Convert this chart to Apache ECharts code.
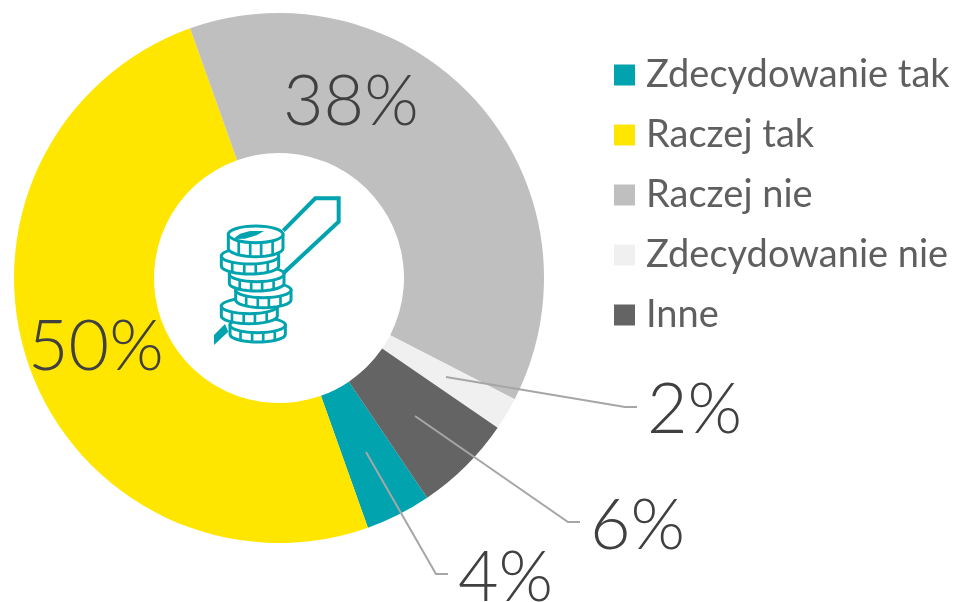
<!DOCTYPE html>
<html>
<head>
<meta charset="utf-8">
<style>
  html, body { margin: 0; padding: 0; background: #fff; }
  #chart { width: 954px; height: 602px; }
</style>
<script src="https://cdn.jsdelivr.net/npm/echarts@6/dist/echarts.min.js"></script>
</head>
<body>
<div id="chart"></div>
<script>
// odpowiedzi i udzial procentowy
const categories = ['Zdecydowanie tak', 'Raczej tak', 'Raczej nie', 'Zdecydowanie nie', 'Inne']
const values = [4, 50, 38, 2, 6]
const colors = ['#00a3ae', '#ffe600', '#bfbfbf', '#f0f0f0', '#646464']
const TEAL = '#00a3ae'

// polozenie etykiet: [x, y] tekstu, dalej punkty linii odniesienia
const labelSpots = [
  { x: 458, y: 578, line: [[366, 452], [436, 574], [448, 574]] },
  { x: 28, y: 347, inner: true },
  { x: 283, y: 102, inner: true },
  { x: 647, y: 410, line: [[446, 377], [625, 407], [637, 407]] },
  { x: 590, y: 526, line: [[415, 416], [568, 522], [580, 522]] }
]

// ikona: monety [cx, cy, rx, ry, h], od dolnej do gornej, w skali powiekszenia 3x
const coins = [
  [203, 465, 83, 23, 28],
  [178, 408, 84, 23, 30],
  [220, 360, 83, 23, 30],
  [200, 312, 82, 23, 28],
  [180, 258, 86, 24, 30],
  [197, 193, 82, 25, 42]
]

function coinShapes (c) {
  const [cx, cy, rx, ry, h] = c
  const style = { stroke: TEAL, lineWidth: 9, fill: '#fff' }
  // bok monety: gorna krawedz i dolny luk
  const body = [[cx - rx, cy]]
  for (let a = 180; a >= 0; a -= 10) {
    const t = a * Math.PI / 180
    body.push([cx + rx * Math.cos(t), cy + h + ry * Math.sin(t)])
  }
  body.push([cx + rx, cy])
  const shapes = [
    { type: 'polygon', shape: { points: body }, style },
    { type: 'ellipse', shape: { cx, cy, rx, ry }, style }
  ]
  ;[-0.62, -0.2, 0.2, 0.62].forEach(k => {
    const x = cx + k * rx
    const d = ry * Math.sqrt(1 - k * k)
    shapes.push({ type: 'line', shape: { x1: x, y1: cy + d, x2: x, y2: cy + d + h }, style: { stroke: TEAL, lineWidth: 8 } })
  })
  return shapes
}

const icon = [
  {
    type: 'polyline',
    shape: { points: [[280, 182], [376, 85], [446, 85], [446, 155], [280, 310]] },
    style: { stroke: TEAL, lineWidth: 12, fill: null }
  },
  {
    type: 'polygon',
    shape: { points: [[72, 495], [105, 462], [115, 485], [72, 525]] },
    style: { fill: TEAL }
  }
]
coins.forEach(c => icon.push(...coinShapes(c)))
icon.push({
  type: 'polygon',
  shape: { points: [[130, 207], [165, 206], [200, 196], [222, 183], [180, 183], [150, 191]] },
  style: { fill: TEAL }
})

const pieData = categories.map((name, i) => ({ name, value: values[i] }))

const chart = echarts.init(document.getElementById('chart'))
chart.setOption({
  animation: false,
  backgroundColor: '#fff',
  color: colors,
  textStyle: { fontFamily: 'Lato' },
  legend: {
    orient: 'vertical',
    left: 614,
    top: 56,
    padding: 0,
    icon: 'rect',
    itemWidth: 21,
    itemHeight: 21,
    itemGap: 22,
    selectedMode: false,
    data: categories,
    textStyle: { fontFamily: 'Lato', fontSize: 38, color: '#5f5f5f', padding: [0, 0, 0, 6] }
  },
  series: [
    {
      type: 'pie',
      z: 2,
      center: [279, 278],
      radius: [125, 265],
      startAngle: -56,
      data: pieData,
      label: { show: false },
      labelLine: { show: false }
    },
    // ta sama seria bez wypelnienia, zeby linie odniesienia lezaly na wycinkach
    {
      type: 'pie',
      z: 3,
      silent: true,
      center: [279, 278],
      radius: [125, 265],
      startAngle: -56,
      itemStyle: { color: 'rgba(0,0,0,0)' },
      data: pieData.map((d, i) => ({
        ...d,
        label: { position: labelSpots[i].inner ? 'inside' : 'outside' },
        labelLine: { show: !!labelSpots[i].line }
      })),
      label: {
        show: true,
        formatter: '{c}%',
        fontFamily: 'Lato',
        fontWeight: 300,
        fontSize: 70,
        color: '#404040'
      },
      labelLine: {
        show: true,
        lineStyle: { color: '#a6a6a6', width: 2 }
      },
      labelLayout: function (params) {
        const spot = labelSpots[params.dataIndex]
        return {
          x: spot.x,
          y: spot.y,
          align: 'left',
          verticalAlign: 'middle',
          labelLinePoints: spot.line
        }
      }
    }
  ],
  graphic: [
    { type: 'group', x: 190, y: 170, scaleX: 1 / 3, scaleY: 1 / 3, silent: true, children: icon }
  ]
})
</script>
</body>
</html>
